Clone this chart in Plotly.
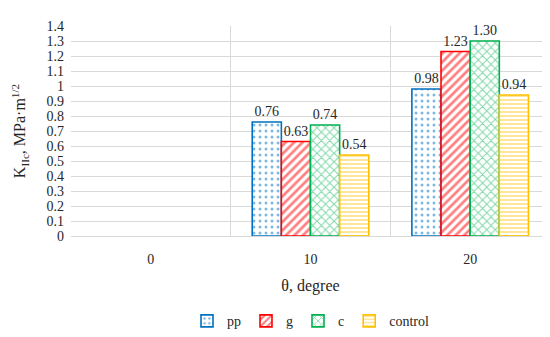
import plotly.graph_objects as go

categories = ["0", "10", "20"]
pp = [None, 0.76, 0.98]
g = [None, 0.63, 1.23]
c = [None, 0.74, 1.30]
control = [None, 0.54, 0.94]
y_ticks = [0, 0.1, 0.2, 0.3, 0.4, 0.5, 0.6, 0.7, 0.8, 0.9, 1, 1.1, 1.2, 1.3, 1.4]

series = [
    ("pp", pp, "#0070C0", ".", 6, 0.2),
    ("g", g, "#FF0000", "/", 6, 0.45),
    ("c", c, "#00B050", "x", 6, 0.3),
    ("control", control, "#FFC000", "-", 4, 0.4),
]

FONT = "Liberation Serif, DejaVu Serif, serif"
TXT = "#262626"
fig = go.Figure()
for name, vals, col, shape, size, sol in series:
    fig.add_trace(go.Bar(
        name=name, x=categories, y=vals,
        marker=dict(color="white",
                    line=dict(color=col, width=1.6),
                    pattern=dict(shape=shape, fgcolor=col, bgcolor="white",
                                 size=size, solidity=sol, fillmode="overlay")),
        text=[None if v is None else f"{v:.2f}" for v in vals],
        textposition="outside", cliponaxis=False,
        textfont=dict(family=FONT, size=14, color=TXT),
    ))

fig.update_layout(
    width=550, height=337,
    margin=dict(l=63, r=8, t=18, b=97),
    plot_bgcolor="white", paper_bgcolor="white",
    barmode="group", bargap=0.27, bargroupgap=0,
    font=dict(family=FONT, size=14, color=TXT),
    showlegend=True,
    legend=dict(orientation="h", x=0.5, xanchor="center", y=-0.33, yanchor="top",
                font=dict(family=FONT, size=14, color=TXT), itemwidth=30,
                traceorder="normal"),
    xaxis=dict(type="category", tickson="boundaries", showgrid=True,
               gridcolor="#D9D9D9", gridwidth=1, showline=True, linecolor="#D9D9D9",
               ticks="", ticklabelstandoff=10,
               tickfont=dict(family=FONT, size=14, color=TXT),
               title=dict(text="θ, degree", font=dict(family=FONT, size=16, color=TXT), standoff=14)),
    yaxis=dict(range=[0, 1.4], tickvals=y_ticks,
               ticktext=[f"{v:g}" for v in y_ticks],
               showgrid=True, gridcolor="#D9D9D9", gridwidth=1, zeroline=False,
               ticks="", ticklabelstandoff=6,
               tickfont=dict(family=FONT, size=14, color=TXT),
               title=dict(text="K<sub>IIc</sub>, MPa·m<sup>1/2</sup>",
                          font=dict(family=FONT, size=16, color=TXT), standoff=16)),
)

fig.write_html("out.html")
